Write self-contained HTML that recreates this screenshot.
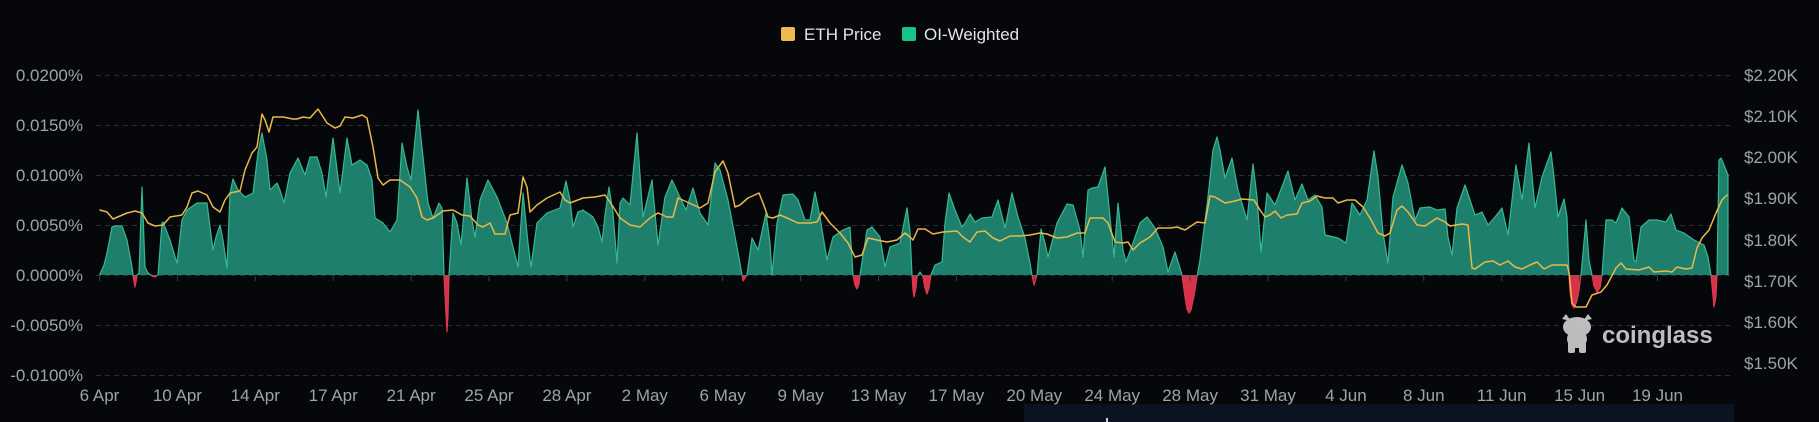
<!DOCTYPE html>
<html>
<head>
<meta charset="utf-8">
<style>
  html,body{margin:0;padding:0;background:#05070b;}
  body{width:1819px;height:422px;overflow:hidden;}
  svg{display:block;}
  .ax{font-family:"Liberation Sans",sans-serif;font-size:17px;fill:#9ea2a9;}
  .lg{font-family:"Liberation Sans",sans-serif;font-size:17px;fill:#e2e4e8;}
</style>
</head>
<body>
<svg width="1819" height="422" viewBox="0 0 1819 422" xmlns="http://www.w3.org/2000/svg" xmlns:xlink="http://www.w3.org/1999/xlink">
  <rect x="0" y="0" width="1819" height="422" fill="#05070b"/>
  <defs>
    <clipPath id="pos"><rect x="0" y="0" width="1819" height="275.5"/></clipPath>
    <clipPath id="neg"><rect x="0" y="275.5" width="1819" height="147"/></clipPath>
    <path id="sp" d="M99.5,275 L104,265 L107,253 L112,227 L115,226 L122,226 L127,240 L132,267 L134,282 L135,287 L136,282 L137,275 L139,273 L142,187 L145,267 L148,273 L152,276 L155,277 L158,275 L162,223 L163,222 L170,240 L177,263 L182,220 L187,210 L197,203 L207,203 L210,227 L213,250 L216,237 L220,225 L223,240 L227,268 L230,193 L233,179 L238,190 L245,197 L253,193 L258,153 L262,133 L267,160 L270,190 L277,183 L280,190 L284,203 L290,173 L298,158 L305,175 L310,157 L317,157 L322,173 L326,197 L333,138 L340,193 L347,138 L352,165 L360,160 L367,165 L372,180 L375,218 L383,223 L390,232 L397,220 L402,143 L407,167 L411,180 L418,110 L423,157 L428,203 L433,218 L439,203 L442,208 L444,275 L446,315 L447,332 L448,315 L449,275 L453,213 L457,223 L461,245 L467,178 L472,220 L475,237 L480,200 L488,180 L497,197 L507,223 L513,247 L518,267 L523,193 L528,243 L531,267 L537,223 L547,213 L560,208 L566,181 L570,200 L573,227 L578,212 L583,210 L593,217 L598,227 L602,242 L605,215 L609,187 L613,213 L617,263 L620,203 L623,198 L630,205 L637,133 L643,217 L652,180 L658,245 L665,197 L672,180 L678,193 L686,210 L693,188 L700,213 L708,225 L715,163 L720,170 L728,200 L737,247 L742,275 L743,281 L747,275 L752,238 L758,250 L766,213 L770,243 L772,275 L777,223 L783,195 L793,194 L798,200 L805,220 L810,220 L815,192 L820,217 L827,260 L833,237 L843,230 L850,227 L853,275 L855,285 L857,289 L859,284 L860,275 L867,230 L872,227 L880,237 L885,267 L890,247 L900,243 L907,208 L910,232 L912,275 L913,290 L914,297 L916,288 L917,277 L920,272 L923,277 L925,288 L927,294 L929,288 L931,275 L935,265 L942,262 L945,223 L949,193 L955,210 L962,227 L965,223 L970,214 L975,222 L982,218 L992,217 L998,200 L1005,228 L1012,193 L1018,217 L1025,238 L1030,263 L1032,275 L1034,285 L1037,275 L1041,229 L1045,243 L1048,257 L1057,223 L1067,204 L1073,205 L1080,230 L1083,257 L1088,190 L1092,188 L1098,187 L1105,167 L1110,217 L1114,257 L1118,203 L1123,250 L1126,262 L1133,243 L1140,223 L1147,217 L1155,228 L1163,247 L1168,272 L1175,252 L1180,268 L1182,275 L1185,297 L1187,309 L1189,313 L1191,310 L1194,296 L1197,277 L1200,260 L1208,197 L1213,150 L1217,137 L1220,150 L1225,178 L1232,158 L1238,190 L1247,220 L1253,164 L1257,197 L1261,252 L1267,193 L1275,205 L1288,171 L1295,200 L1302,184 L1308,200 L1315,195 L1322,207 L1325,235 L1338,238 L1346,243 L1352,203 L1360,215 L1367,200 L1374,151 L1378,177 L1383,233 L1388,263 L1393,197 L1402,165 L1408,183 L1415,220 L1420,208 L1430,207 L1437,210 L1445,209 L1448,237 L1452,255 L1457,208 L1465,185 L1470,200 L1475,215 L1482,212 L1488,225 L1495,217 L1502,208 L1508,235 L1516,165 L1522,200 L1529,143 L1535,208 L1542,177 L1551,152 L1554,177 L1558,217 L1564,199 L1567,217 L1569,275 L1570,292 L1572,305 L1574,308 L1577,301 L1579,290 L1581,275 L1586,220 L1589,260 L1592,275 L1594,286 L1597,292 L1600,288 L1602,275 L1606,220 L1612,220 L1616,223 L1622,208 L1629,217 L1634,260 L1636,262 L1641,227 L1649,220 L1657,220 L1666,222 L1671,214 L1676,230 L1684,233 L1694,240 L1704,245 L1708,257 L1711,275 L1713,296 L1714,307 L1716,296 L1717,275 L1719,160 L1721,158 L1724,165 L1728,175 L1728,275"/>
  </defs>

  <!-- grid -->
  <g stroke="#2a2d34" stroke-width="1" stroke-dasharray="5,4">
    <line x1="96" y1="75.5" x2="1733" y2="75.5"/>
    <line x1="96" y1="125.5" x2="1733" y2="125.5"/>
    <line x1="96" y1="175.5" x2="1733" y2="175.5"/>
    <line x1="96" y1="225.5" x2="1733" y2="225.5"/>
    <line x1="96" y1="275.5" x2="1733" y2="275.5"/>
    <line x1="96" y1="325.5" x2="1733" y2="325.5"/>
    <line x1="96" y1="375.5" x2="1733" y2="375.5"/>
  </g>

  <!-- area series -->
  <use href="#sp" xlink:href="#sp" fill="#1e806c" stroke="none" clip-path="url(#pos)"/>
  <use href="#sp" xlink:href="#sp" fill="#d6334a" stroke="none" clip-path="url(#neg)"/>
  <use href="#sp" xlink:href="#sp" fill="none" stroke="#36b892" stroke-width="1.2" stroke-linejoin="round" clip-path="url(#pos)"/>
  <use href="#sp" xlink:href="#sp" fill="none" stroke="#e0394f" stroke-width="1.2" stroke-linejoin="round" clip-path="url(#neg)"/>

  <!-- x ticks on zero line -->
  <g stroke="#3a3d44" stroke-width="1">
    <line x1="99.5" y1="276" x2="99.5" y2="281"/><line x1="177.4" y1="276" x2="177.4" y2="281"/><line x1="255.3" y1="276" x2="255.3" y2="281"/><line x1="333.2" y1="276" x2="333.2" y2="281"/><line x1="411.1" y1="276" x2="411.1" y2="281"/><line x1="489" y1="276" x2="489" y2="281"/><line x1="566.9" y1="276" x2="566.9" y2="281"/><line x1="644.8" y1="276" x2="644.8" y2="281"/><line x1="722.7" y1="276" x2="722.7" y2="281"/><line x1="800.6" y1="276" x2="800.6" y2="281"/><line x1="878.5" y1="276" x2="878.5" y2="281"/><line x1="956.4" y1="276" x2="956.4" y2="281"/><line x1="1034.3" y1="276" x2="1034.3" y2="281"/><line x1="1112.2" y1="276" x2="1112.2" y2="281"/><line x1="1190.1" y1="276" x2="1190.1" y2="281"/><line x1="1268" y1="276" x2="1268" y2="281"/><line x1="1345.9" y1="276" x2="1345.9" y2="281"/><line x1="1423.8" y1="276" x2="1423.8" y2="281"/><line x1="1501.7" y1="276" x2="1501.7" y2="281"/><line x1="1579.6" y1="276" x2="1579.6" y2="281"/><line x1="1657.5" y1="276" x2="1657.5" y2="281"/>
  </g>

  <!-- price line -->
  <path d="M100,210 L107,212 L113,219 L120,216 L127,213 L135,211 L142,213 L148,223 L155,226 L163,225 L170,217 L182,215 L187,207 L192,193 L198,191 L207,195 L213,207 L220,212 L225,200 L230,193 L240,191 L245,170 L252,153 L257,147 L262,114 L265,120 L269,132 L273,117 L283,117 L293,119 L297,119 L303,117 L310,118 L318,109 L327,123 L335,128 L340,126 L345,117 L353,118 L362,115 L367,118 L373,147 L378,178 L383,185 L390,180 L400,180 L410,187 L417,198 L422,217 L427,220 L433,218 L443,211 L453,210 L462,215 L470,216 L478,225 L483,227 L490,223 L495,234 L505,234 L510,215 L518,213 L523,177 L527,187 L530,212 L537,205 L547,198 L560,192 L565,200 L570,203 L583,198 L595,197 L605,195 L612,205 L620,218 L630,225 L640,227 L650,218 L658,213 L667,217 L673,217 L678,198 L687,202 L700,208 L708,203 L715,172 L723,161 L728,173 L735,207 L740,205 L748,198 L759,193 L763,203 L768,217 L773,218 L780,215 L787,218 L798,223 L810,223 L817,222 L822,212 L830,223 L840,233 L848,243 L855,257 L862,255 L868,238 L877,240 L887,242 L897,240 L905,233 L910,237 L913,240 L918,229 L925,229 L933,234 L943,232 L957,231 L963,237 L970,242 L977,232 L985,231 L993,238 L1000,241 L1010,236 L1020,236 L1030,235 L1040,233 L1047,234 L1057,238 L1067,237 L1077,233 L1085,233 L1090,218 L1103,218 L1108,223 L1115,242 L1123,243 L1128,242 L1133,250 L1140,243 L1150,237 L1158,228 L1170,228 L1177,227 L1185,230 L1197,222 L1205,223 L1210,196 L1215,197 L1225,203 L1235,201 L1242,199 L1254,200 L1260,210 L1265,217 L1270,215 L1275,211 L1281,218 L1287,215 L1297,214 L1302,203 L1310,201 L1317,196 L1325,198 L1333,198 L1338,203 L1347,200 L1355,200 L1363,207 L1370,218 L1378,233 L1385,236 L1390,233 L1397,210 L1402,206 L1408,212 L1417,225 L1425,226 L1437,218 L1445,222 L1450,226 L1462,224 L1468,225 L1472,268 L1475,269 L1485,262 L1493,261 L1500,265 L1508,261 L1515,267 L1522,269 L1530,265 L1537,262 L1544,269 L1552,265 L1567,265 L1569,272 L1572,303 L1576,307 L1586,307 L1592,295 L1601,292 L1607,285 L1616,268 L1621,263 L1626,269 L1639,270 L1649,267 L1654,272 L1666,271 L1672,272 L1677,267 L1686,269 L1692,268 L1697,248 L1702,238 L1709,230 L1716,213 L1722,200 L1727,195"
    fill="none" stroke="#e8b84a" stroke-width="1.5" stroke-linejoin="round" stroke-linecap="round"/>

  <!-- left axis labels -->
  <g class="ax" text-anchor="end">
    <text x="83" y="81">0.0200%</text>
    <text x="83" y="131">0.0150%</text>
    <text x="83" y="181">0.0100%</text>
    <text x="83" y="231">0.0050%</text>
    <text x="83" y="281">0.0000%</text>
    <text x="83" y="331">-0.0050%</text>
    <text x="83" y="381">-0.0100%</text>
  </g>

  <!-- right axis labels -->
  <g class="ax" text-anchor="start">
    <text x="1744" y="81">$2.20K</text>
    <text x="1744" y="122">$2.10K</text>
    <text x="1744" y="163">$2.00K</text>
    <text x="1744" y="204">$1.90K</text>
    <text x="1744" y="246">$1.80K</text>
    <text x="1744" y="287">$1.70K</text>
    <text x="1744" y="328">$1.60K</text>
    <text x="1744" y="369">$1.50K</text>
  </g>

  <!-- bottom band -->
  <rect x="1024" y="404" width="710" height="18" fill="#0b1323"/>
  <rect x="1106" y="418" width="2" height="4" fill="#cfd3da"/>

  <!-- x axis labels -->
  <g class="ax" text-anchor="middle">
    <text x="99.5" y="401">6 Apr</text>
    <text x="177.4" y="401">10 Apr</text>
    <text x="255.3" y="401">14 Apr</text>
    <text x="333.2" y="401">17 Apr</text>
    <text x="411.1" y="401">21 Apr</text>
    <text x="489" y="401">25 Apr</text>
    <text x="566.9" y="401">28 Apr</text>
    <text x="644.8" y="401">2 May</text>
    <text x="722.7" y="401">6 May</text>
    <text x="800.6" y="401">9 May</text>
    <text x="878.5" y="401">13 May</text>
    <text x="956.4" y="401">17 May</text>
    <text x="1034.3" y="401">20 May</text>
    <text x="1112.2" y="401">24 May</text>
    <text x="1190.1" y="401">28 May</text>
    <text x="1268" y="401">31 May</text>
    <text x="1345.9" y="401">4 Jun</text>
    <text x="1423.8" y="401">8 Jun</text>
    <text x="1501.7" y="401">11 Jun</text>
    <text x="1579.6" y="401">15 Jun</text>
    <text x="1657.5" y="401">19 Jun</text>
  </g>

  <!-- legend -->
  <rect x="781" y="27" width="14" height="14" rx="2" fill="#f0b94f"/>
  <text class="lg" x="804" y="40">ETH Price</text>
  <rect x="902" y="27" width="14" height="14" rx="2" fill="#17c387"/>
  <text class="lg" x="924" y="40">OI-Weighted</text>

  <!-- watermark -->
  <g fill="#bdbdbd">
    <ellipse cx="1577" cy="327" rx="14" ry="10"/>
    <path d="M1562,319 L1566,314 L1571,321 Z"/>
    <path d="M1592,319 L1588,314 L1583,321 Z"/>
    <ellipse cx="1577" cy="339" rx="10" ry="9"/>
    <rect x="1568" y="342" width="7" height="11" rx="2"/>
    <rect x="1579" y="342" width="7" height="11" rx="2"/>
  </g>
  <text x="1602" y="343" font-family="'Liberation Sans',sans-serif" font-size="24" font-weight="bold" fill="#bdbdbd">coinglass</text>
</svg>
</body>
</html>
